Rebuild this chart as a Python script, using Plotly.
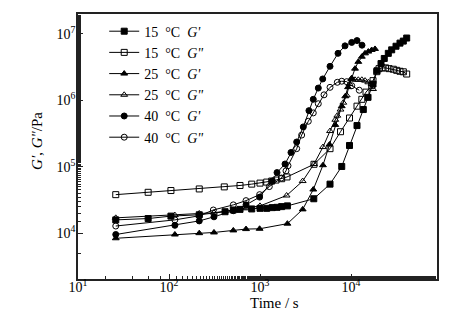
import plotly.graph_objects as go

# ---- data (time in s, modulus in Pa) ----
t_15_Gp = [26, 59, 105, 215, 413, 509, 603, 811, 1000, 1185, 1362, 1538, 1730, 2000, 3900, 5880, 7910, 9630, 11640, 13650, 15380, 17460, 19300, 21370, 23210, 25700, 28000, 31240, 34530, 37570, 40930]
G_15_Gp = [15850, 16600, 18070, 18920, 21040, 22340, 22810, 23170, 23650, 23650, 24260, 24500, 25120, 25760, 32980, 54740, 1.01e5, 2.09e5, 4.17e5, 7.27e5, 1.11e6, 1.76e6, 2.79e6, 3.58e6, 4.27e6, 5.10e6, 5.76e6, 6.53e6, 7.27e6, 7.80e6, 8.67e6]

t_15_Gpp = [26, 59, 105, 215, 405, 603, 811, 1000, 1185, 1345, 1500, 1730, 1980, 3920, 5880, 7670, 9630, 11640, 13150, 14620, 16880, 17460, 19200, 20320, 21930, 23930, 26170, 29170, 31780, 34530, 37570, 40930]
G_15_Gpp = [38020, 41240, 43850, 46350, 49760, 52260, 54740, 56720, 58760, 60920, 63100, 66070, 70210, 1.09e5, 1.872e5, 3.37e5, 5.42e5, 8.17e5, 1.036e6, 1.33e6, 1.66e6, 1.98e6, 2.70e6, 3.0e6, 3.08e6, 3.08e6, 3.0e6, 2.94e6, 2.83e6, 2.74e6, 2.69e6, 2.49e6]

t_25_Gp = [26, 116, 215, 312, 509, 702, 990, 2000, 2945, 3850, 4920, 5800, 6720, 7910, 8650, 9270, 10180, 11070, 12030, 13150, 14260, 15490, 16880, 18360]
G_25_Gp = [8380, 9550, 10000, 10250, 11000, 11520, 11650, 13900, 22810, 45400, 1.055e5, 2.16e5, 4.27e5, 8.17e5, 1.15e6, 1.58e6, 2.16e6, 3.0e6, 3.80e6, 4.54e6, 5.10e6, 5.42e6, 5.73e6, 5.94e6]

t_25_Gpp = [26, 116, 215, 312, 509, 702, 1000, 1960, 2945, 3920, 4920, 5880, 6720, 7070, 7670, 8230, 8970, 9630, 10070, 11070, 12030, 13150, 14260, 15490, 16880, 17460]
G_25_Gpp = [17010, 18710, 19820, 20310, 22340, 23650, 25760, 36900, 60920, 1.10e5, 1.98e5, 3.45e5, 5.10e5, 5.88e5, 7.27e5, 9.22e5, 1.19e6, 1.76e6, 2.10e6, 2.04e6, 2.04e6, 2.04e6, 1.98e6, 1.87e6, 1.76e6, 1.48e6]

t_40_Gp = [26, 116, 215, 312, 509, 702, 990, 1362, 1538, 1883, 2190, 2530, 2990, 3450, 3850, 4370, 4890, 5880, 7200, 8590, 10180, 11640, 13210]
G_40_Gp = [9550, 13140, 15300, 17630, 21790, 26680, 34910, 60920, 81720, 1.10e5, 1.641e5, 2.36e5, 3.98e5, 7.0e5, 1.036e6, 1.53e6, 2.10e6, 3.25e6, 5.10e6, 6.61e6, 7.45e6, 7.94e6, 6.77e6]

t_40_Gpp = [26, 116, 215, 307, 509, 702, 990, 1266, 1722, 1930, 2030, 2530, 2870, 3395, 3850, 4370, 5050, 5880, 7070, 7910, 8970, 10180, 12330]
G_40_Gpp = [12810, 15850, 18260, 22340, 26680, 30900, 38020, 50300, 67720, 86700, 1.036e5, 1.872e5, 3.0e5, 4.84e5, 6.47e5, 8.89e5, 1.21e6, 1.57e6, 1.87e6, 1.94e6, 1.91e6, 1.66e6, 1.42e6]

series_names = ["15  °C  <i>G'</i>", "15  °C  <i>G\"</i>",
                "25  °C  <i>G'</i>", "25  °C  <i>G\"</i>",
                "40  °C  <i>G'</i>", "40  °C  <i>G\"</i>"]
series_t = [t_15_Gp, t_15_Gpp, t_25_Gp, t_25_Gpp, t_40_Gp, t_40_Gpp]
series_G = [G_15_Gp, G_15_Gpp, G_25_Gp, G_25_Gpp, G_40_Gp, G_40_Gpp]
series_symbols = ["square", "square-open", "triangle-up", "triangle-up-open", "circle", "circle-open"]

x_tickvals = [10, 100, 1000, 10000]
x_ticktext = ["10<sup>1</sup>", "10<sup>2</sup>", "10<sup>3</sup>", "10<sup>4</sup>"]
y_tickvals = [1e4, 1e5, 1e6, 1e7]
y_ticktext = ["10<sup>4</sup>", "10<sup>5</sup>", "10<sup>6</sup>", "10<sup>7</sup>"]

FONT = "Liberation Serif, Times New Roman, serif"

fig = go.Figure()
for name, tx, gy, sym in zip(series_names, series_t, series_G, series_symbols):
    fig.add_trace(go.Scatter(
        x=tx, y=gy, name=name, mode="lines+markers",
        line=dict(color="black", width=1),
        marker=dict(symbol=sym, size=6, color="black",
                    line=dict(color="black", width=1)),
    ))

axis_common = dict(
    type="log", showgrid=False, zeroline=False,
    showline=True, linecolor="#222", linewidth=1.5, mirror=True,
    ticks="inside", ticklen=5, tickwidth=1, tickcolor="#222",
    tickfont=dict(family=FONT, size=14, color="black"),
    minor=dict(ticks="inside", ticklen=3, tickcolor="#222", showgrid=False),
)

fig.update_xaxes(**axis_common, range=[1, 4.945], ticklabelstandoff=-6,
                 tickmode="array", tickvals=x_tickvals, ticktext=x_ticktext)
fig.update_yaxes(**axis_common, range=[3.31, 7.30], ticklabelstandoff=-2,
                 tickmode="array", tickvals=y_tickvals, ticktext=y_ticktext)

fig.add_annotation(text="Time / s", xref="paper", yref="paper",
                   x=0.548, y=-0.092, xanchor="center", yanchor="middle",
                   showarrow=False, font=dict(family=FONT, size=15, color="black"))
fig.add_annotation(text="<i>G'</i>, <i>G\"</i>/Pa", xref="paper", yref="paper",
                   x=-0.115, y=0.52, xanchor="center", yanchor="middle", textangle=-90,
                   showarrow=False, font=dict(family=FONT, size=15, color="black"))

# page body has an 8px default margin, so the figure is sized to fit inside it
fig.update_layout(
    width=465, height=317,
    margin=dict(l=70, r=36, t=4, b=46),
    paper_bgcolor="white", plot_bgcolor="white",
    font=dict(family=FONT, size=14, color="black"),
    legend=dict(x=0.073, y=0.994, xanchor="left", yanchor="top",
                bgcolor="rgba(0,0,0,0)", borderwidth=0,
                font=dict(family=FONT, size=14, color="black"),
                tracegroupgap=0, itemwidth=30),
    showlegend=True,
)

fig.write_html("out.html")
